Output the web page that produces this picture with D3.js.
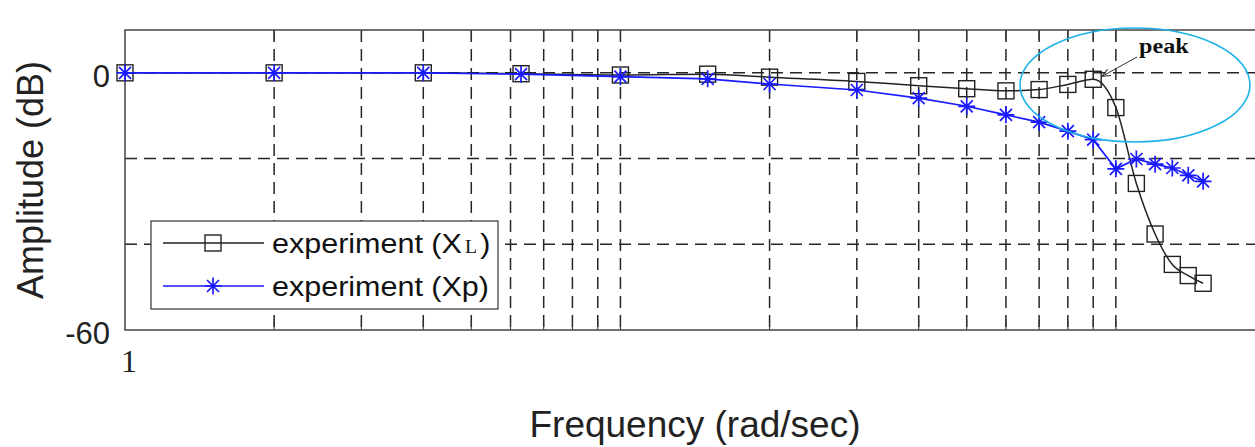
<!DOCTYPE html>
<head>
    <meta charset="utf-8">
    <title>Amplitude vs Frequency</title>
    <style>
        html, body {
            margin: 0;
            background: #fff;
        }

        svg {
            display: block;
            font-family: "Liberation Sans", Arial, sans-serif;
        }

        .grid line {
            stroke: #262626;
            stroke-width: 1.5;
            stroke-dasharray: 12, 7;
        }

        .tick line {
            stroke: #333;
            stroke-width: 1;
        }
    </style>
</head>
<body>
<script src="https://cdn.jsdelivr.net/npm/d3@7"></script>
<script>

    // frequencies (rad/sec) and measured amplitudes (dB)
    const freq = [1, 2, 4, 6.3, 10, 15, 20, 30, 40, 50, 60, 70, 80, 90, 100, 110, 120, 130, 140, 150];
    const ampXL = [0, 0, 0, -0.2, -0.5, -0.3, -1.0, -2.0, -3.0, -3.7, -4.2, -3.9, -2.7, -1.5, -8.1, -25.8, -37.6, -44.7, -47.3, -49.1];
    const ampXp = [0, 0, 0, -0.3, -0.9, -1.4, -2.6, -4.0, -5.9, -7.8, -9.8, -11.5, -13.6, -15.6, -22.4, -20.1, -21.3, -22.2, -23.9, -25.3];

    const xGrid = [2, 3, 4, 5, 6, 7, 8, 9, 10, 20, 30, 40, 50, 60, 70, 80, 90, 100];
    const yGrid = [0, -20, -40];
    const yTickLabels = [0, -60];
    const xTickLabels = [1];
    const legendLabels = ["experiment (X", "experiment (Xp)"];
    const peakFreq = 90;

    const width = 1255,
        height = 447;

    const x = d3.scaleLog().domain([1, 200]).range([125, 1265]);
    const y = d3.scaleLinear().domain([-60, 10]).range([330, 30]);

    const plotLeft = x.range()[0], plotTop = y.range()[1], plotBottom = y.range()[0];

    const svg = d3.select("body").append("svg")
        .attr("width", width)
        .attr("height", height);

    // grid
    const grid = svg.append("g").attr("class", "grid");
    grid.selectAll("line.v")
        .data(xGrid)
        .enter().append("line")
        .attr("class", "v")
        .attr("x1", d => x(d)).attr("x2", d => x(d))
        .attr("y1", plotTop).attr("y2", plotBottom);
    grid.selectAll("line.h")
        .data(yGrid)
        .enter().append("line")
        .attr("class", "h")
        .attr("x1", plotLeft).attr("x2", width)
        .attr("y1", d => y(d)).attr("y2", d => y(d));

    // inside ticks
    const ticks = svg.append("g").attr("class", "tick");
    xGrid.forEach(d => {
        ticks.append("line").attr("x1", x(d)).attr("x2", x(d)).attr("y1", plotBottom).attr("y2", plotBottom - 10);
        ticks.append("line").attr("x1", x(d)).attr("x2", x(d)).attr("y1", plotTop).attr("y2", plotTop + 10);
    });
    yGrid.forEach(d => {
        ticks.append("line").attr("x1", plotLeft).attr("x2", plotLeft + 10).attr("y1", y(d)).attr("y2", y(d));
    });

    // axes box
    svg.append("path")
        .attr("d", `M${width},${plotTop}H${plotLeft}V${plotBottom}H${width}`)
        .attr("fill", "none")
        .attr("stroke", "#444")
        .attr("stroke-width", 1.5);

    // tick labels
    svg.selectAll("text.ylab")
        .data(yTickLabels)
        .enter().append("text")
        .attr("class", "ylab")
        .attr("x", plotLeft - 15)
        .attr("y", d => y(d) + 14)
        .attr("text-anchor", "end")
        .attr("font-size", 31)
        .attr("fill", "#222")
        .text(d => d);

    svg.selectAll("text.xlab")
        .data(xTickLabels)
        .enter().append("text")
        .attr("class", "xlab")
        .attr("x", d => x(d) + 4)
        .attr("y", plotBottom + 42)
        .attr("text-anchor", "middle")
        .attr("font-family", "'Liberation Serif', serif")
        .attr("font-size", 32)
        .attr("fill", "#222")
        .text(d => d);

    // axis titles
    svg.append("text")
        .attr("transform", "translate(43,180) rotate(-90)")
        .attr("text-anchor", "middle")
        .attr("font-size", 36)
        .attr("fill", "#222")
        .text("Amplitude (dB)");

    svg.append("text")
        .attr("x", 695)
        .attr("y", 437)
        .attr("text-anchor", "middle")
        .attr("font-size", 37)
        .attr("fill", "#222")
        .text("Frequency (rad/sec)");

    // series
    const dataXL = freq.map((f, i) => ({f: f, v: ampXL[i]}));
    const dataXp = freq.map((f, i) => ({f: f, v: ampXp[i]}));

    const starPath = "M-8.5,0H8.5M0,-8.5V8.5M-6,-6L6,6M-6,6L6,-6";

    svg.append("path")
        .datum(dataXL)
        .attr("fill", "none")
        .attr("stroke", "#222")
        .attr("stroke-width", 1.5)
        .attr("d", d3.line().x(d => x(d.f)).y(d => y(d.v)).curve(d3.curveMonotoneX));

    svg.selectAll("rect.sq")
        .data(dataXL)
        .enter().append("rect")
        .attr("class", "sq")
        .attr("x", d => x(d.f) - 8)
        .attr("y", d => y(d.v) - 8)
        .attr("width", 16).attr("height", 16)
        .attr("fill", "none")
        .attr("stroke", "#222")
        .attr("stroke-width", 1.4);

    svg.append("path")
        .datum(dataXp)
        .attr("fill", "none")
        .attr("stroke", "#1a1aff")
        .attr("stroke-width", 1.7)
        .attr("d", d3.line().x(d => x(d.f)).y(d => y(d.v)));

    svg.selectAll("path.star")
        .data(dataXp)
        .enter().append("path")
        .attr("class", "star")
        .attr("transform", d => `translate(${x(d.f)},${y(d.v)})`)
        .attr("d", starPath)
        .attr("fill", "none")
        .attr("stroke", "#1a1aff")
        .attr("stroke-width", 1.7);

    // legend
    const legend = svg.append("g");
    legend.append("rect")
        .attr("x", 151).attr("y", 221)
        .attr("width", 347).attr("height", 88)
        .attr("fill", "#fff")
        .attr("stroke", "#333")
        .attr("stroke-width", 1.2);

    const rows = [
        {y: 243, color: "#222"},
        {y: 286, color: "#1a1aff"}
    ];
    rows.forEach((r, i) => {
        legend.append("line")
            .attr("x1", 163).attr("x2", 264)
            .attr("y1", r.y).attr("y2", r.y)
            .attr("stroke", r.color)
            .attr("stroke-width", 1.5);
        if (i === 0) {
            legend.append("rect")
                .attr("x", 213 - 8).attr("y", r.y - 8)
                .attr("width", 16).attr("height", 16)
                .attr("fill", "none").attr("stroke", r.color).attr("stroke-width", 1.4);
        } else {
            legend.append("path")
                .attr("transform", `translate(213,${r.y})`)
                .attr("d", starPath)
                .attr("fill", "none").attr("stroke", r.color).attr("stroke-width", 1.7);
        }
        const t = legend.append("text")
            .attr("transform", `translate(272,${r.y + 10}) scale(1.09,1)`)
            .attr("font-size", 28)
            .attr("fill", "#111");
        if (i === 0) {
            t.append("tspan").text(legendLabels[0]);
            t.append("tspan")
                .attr("font-family", "'Liberation Serif', serif")
                .attr("font-size", 18)
                .attr("dx", 3)
                .text("L");
            t.append("tspan").attr("dx", 3).text(")");
        } else {
            t.text(legendLabels[1]);
        }
    });

    // peak annotation
    const px = x(peakFreq), py = y(ampXL[freq.indexOf(peakFreq)]);

    svg.append("defs").append("marker")
        .attr("id", "arrow")
        .attr("viewBox", "0 0 10 10")
        .attr("refX", 9).attr("refY", 5)
        .attr("markerWidth", 9).attr("markerHeight", 9)
        .attr("orient", "auto-start-reverse")
        .append("path")
        .attr("d", "M0,1L9,5L0,9")
        .attr("fill", "none")
        .attr("stroke", "#333")
        .attr("stroke-width", 1.2);

    svg.append("line")
        .attr("x1", 1137).attr("y1", 57)
        .attr("x2", px + 9).attr("y2", py - 3)
        .attr("stroke", "#333")
        .attr("stroke-width", 1)
        .attr("marker-end", "url(#arrow)");

    svg.append("text")
        .attr("transform", "translate(1139,53) scale(1.15,1)")
        .attr("font-family", "'Liberation Serif', serif")
        .attr("font-weight", "bold")
        .attr("font-size", 21)
        .attr("fill", "#111")
        .text("peak");

    svg.append("ellipse")
        .attr("cx", 1135).attr("cy", 85)
        .attr("rx", 115).attr("ry", 57)
        .attr("fill", "none")
        .attr("stroke", "#1eb2e8")
        .attr("stroke-width", 1.6);

</script>
</body>
